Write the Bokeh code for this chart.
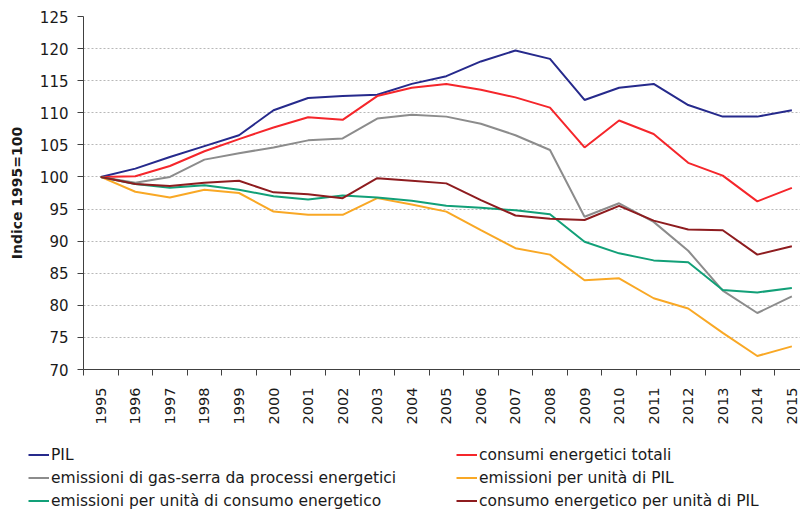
import math
from bokeh.plotting import figure
from bokeh.models import FixedTicker, Range1d, Legend, LegendItem
from bokeh.layouts import column
from bokeh.embed import file_html
from bokeh.resources import INLINE

years = list(range(1995, 2016))
pil = [100, 101.3, 103.1, 104.8, 106.5, 110.4, 112.3, 112.6, 112.8, 114.5, 115.7,
       118.0, 119.7, 118.4, 112.0, 113.9, 114.5, 111.2, 109.4, 109.4, 110.4]
consumi = [100, 100.1, 101.7, 104.0, 105.9, 107.7, 109.3, 108.9, 112.6, 113.9, 114.5,
           113.6, 112.4, 110.8, 104.6, 108.8, 106.7, 102.2, 100.2, 96.2, 98.3]
gas_serra = [100, 99.1, 100.0, 102.7, 103.7, 104.6, 105.7, 106.0, 109.1, 109.7, 109.4,
             108.3, 106.5, 104.2, 93.8, 95.9, 93.0, 88.5, 82.3, 78.8, 81.4]
emiss_pil = [100, 97.7, 96.8, 98.0, 97.5, 94.6, 94.1, 94.1, 96.7, 95.7, 94.6,
             91.7, 88.9, 87.9, 83.9, 84.2, 81.1, 79.5, 75.7, 72.1, 73.6]
emiss_cons = [100, 98.9, 98.3, 98.7, 98.0, 97.0, 96.5, 97.1, 96.8, 96.3, 95.5,
              95.2, 94.8, 94.2, 89.9, 88.1, 87.0, 86.7, 82.4, 82.0, 82.7]
cons_pil = [100, 98.9, 98.6, 99.1, 99.4, 97.6, 97.3, 96.7, 99.8, 99.4, 99.0,
            96.4, 94.0, 93.5, 93.3, 95.5, 93.2, 91.8, 91.7, 87.9, 89.2]

labels = ["PIL", "consumi energetici totali",
          "emissioni di gas-serra da processi energetici", "emissioni per unità di PIL",
          "emissioni per unità di consumo energetico", "consumo energetico per unità di PIL"]
colors = ["#262a8c", "#f5262b", "#8c8c8c", "#f9a825", "#12a078", "#8e1c1f"]
series = [pil, consumi, gas_serra, emiss_pil, emiss_cons, cons_pil]
y_ticks = list(range(70, 126, 5))

FONT = "DejaVu Sans"

p = figure(width=800, height=440, output_backend="svg", toolbar_location=None,
           x_range=Range1d(1994.5, 2015.25), y_range=Range1d(70, 125),
           min_border_left=83, min_border_right=0, min_border_top=16, min_border_bottom=71)
p.outline_line_color = None
p.frame_align = False

for vals, c in zip(series, colors):
    p.line(years, vals, line_color=c, line_width=2)

# x axis
xa = p.xaxis[0]
xa.ticker = FixedTicker(ticks=years, minor_ticks=[y - 0.5 for y in years])
xa.major_label_orientation = math.pi / 2
xa.major_tick_out = 0
xa.major_tick_in = 0
xa.minor_tick_out = 6
xa.minor_tick_in = 0
xa.minor_tick_line_color = "#404040"
xa.axis_line_color = "#404040"
xa.major_label_standoff = 12
xa.major_label_text_font = FONT
xa.major_label_text_font_size = "14.5px"
xa.major_label_text_color = "#1a1a1a"

# y axis
ya = p.yaxis[0]
ya.ticker = FixedTicker(ticks=y_ticks)
ya.major_tick_out = 6
ya.major_tick_in = 0
ya.minor_tick_line_color = None
ya.major_tick_line_color = "#404040"
ya.axis_line_color = "#404040"
ya.major_label_standoff = 9
ya.major_label_text_font = FONT
ya.major_label_text_font_size = "15px"
ya.major_label_text_color = "#1a1a1a"
ya.axis_label = "Indice 1995=100"
ya.axis_label_text_font = FONT
ya.axis_label_text_font_style = "bold"
ya.axis_label_text_font_size = "14px"
ya.axis_label_text_color = "#1a1a1a"
ya.axis_label_standoff = 12

p.xgrid.grid_line_color = None
p.ygrid.ticker = FixedTicker(ticks=y_ticks[1:-1])
p.ygrid.grid_line_color = "#b8b8b8"
p.ygrid.grid_line_dash = "2 2"
p.ygrid.grid_line_width = 1

# legend panel below the chart
lf = figure(width=800, height=70, output_backend="svg", toolbar_location=None,
            x_range=Range1d(0, 1), y_range=Range1d(0, 1),
            x_axis_location=None, y_axis_location=None,
            min_border_left=0, min_border_right=0, min_border_top=0, min_border_bottom=0)
lf.outline_line_color = None
lf.frame_align = False
lf.xgrid.grid_line_color = None
lf.ygrid.grid_line_color = None
# proxy lines (kept outside the visible range) that give the legend its swatches
lrs = [lf.line([-2, -1], [-2, -1], line_color=c, line_width=2) for c in colors]


def make_legend(idx, x):
    items = [LegendItem(label=labels[i], renderers=[lrs[i]]) for i in idx]
    return Legend(items=items, location=(x, -2), orientation="vertical",
                  padding=0, margin=0, spacing=0, border_line_color=None,
                  background_fill_alpha=0, glyph_width=21, glyph_height=23,
                  label_height=23, label_standoff=2,
                  label_text_font=FONT, label_text_font_size="15.5px",
                  label_text_color="#1a1a1a")


lf.add_layout(make_legend([0, 2, 4], 28), "center")
lf.add_layout(make_legend([1, 3, 5], 456), "center")

open("out.html", "w").write(file_html(column(p, lf), INLINE))
